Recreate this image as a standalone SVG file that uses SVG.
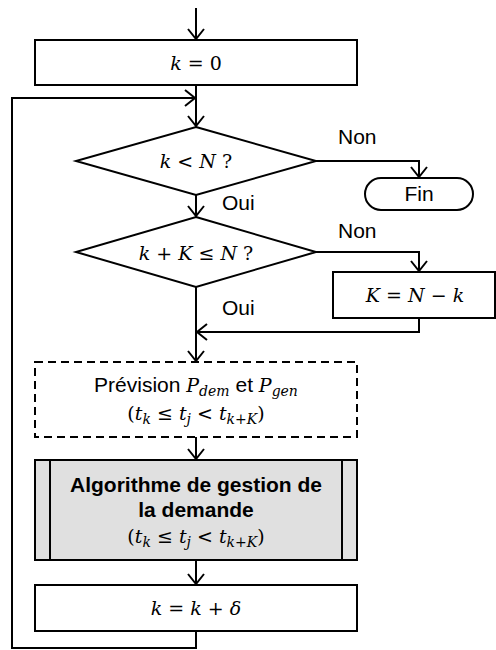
<svg xmlns="http://www.w3.org/2000/svg" width="496" height="650" viewBox="0 0 496 650">
<style>
.box{fill:#fff;stroke:#000;stroke-width:2}
.ln{fill:none;stroke:#000;stroke-width:2}
.lbl{font-family:"Liberation Sans",Arial,sans-serif;font-size:21px;fill:#000}
.m{font-family:"DejaVu Serif","Liberation Serif",serif;font-size:19px;fill:#000}
.i{font-style:italic}
.b{font-weight:bold}
.s{font-size:14px}
</style>
<defs>
<marker id="ah" viewBox="0 0 12 18" refX="11" refY="9" markerWidth="12" markerHeight="18" markerUnits="userSpaceOnUse" orient="auto">
<path d="M1,1 L11,9 L1,17" fill="none" stroke="#000" stroke-width="2"/>
</marker>
</defs>
<g id="connectors">
<line class="ln" x1="196" y1="8" x2="196" y2="39" marker-end="url(#ah)"/>
<line class="ln" x1="196" y1="85" x2="196" y2="126" marker-end="url(#ah)"/>
<polyline class="ln" points="196,631 196,648 12,648 12,98 195,98" marker-end="url(#ah)"/>
<polyline class="ln" points="316,161 419,161 419,177" marker-end="url(#ah)"/>
<line class="ln" x1="196" y1="195" x2="196" y2="216" marker-end="url(#ah)"/>
<polyline class="ln" points="316,252 419,252 419,271" marker-end="url(#ah)"/>
<polyline class="ln" points="419,318 419,332 197,332" marker-end="url(#ah)"/>
<line class="ln" x1="196" y1="287" x2="196" y2="361" marker-end="url(#ah)"/>
<line class="ln" x1="196" y1="437" x2="196" y2="459" marker-end="url(#ah)"/>
<line class="ln" x1="196" y1="560" x2="196" y2="584" marker-end="url(#ah)"/>
<text class="lbl" x="338" y="144">Non</text>
<text class="lbl" x="222" y="210">Oui</text>
<text class="lbl" x="338" y="238">Non</text>
<text class="lbl" x="222" y="315">Oui</text>
</g>
<g id="init">
<rect class="box" x="35" y="40" width="322" height="45"/>
<text class="m" x="196" y="70" text-anchor="middle"><tspan class="i">k</tspan> = 0</text>
</g>
<g id="cond1">
<polygon class="box" points="196,127 316,161 196,195 76,161"/>
<text class="m" x="196" y="168" text-anchor="middle"><tspan class="i">k</tspan> &lt; <tspan class="i">N</tspan> ?</text>
</g>
<g id="fin">
<rect class="box" x="365" y="178" width="108" height="32" rx="16" ry="16"/>
<text class="lbl" x="419" y="201" text-anchor="middle">Fin</text>
</g>
<g id="cond2">
<polygon class="box" points="196,217 316,252 196,287 76,252"/>
<text class="m" x="196" y="260" text-anchor="middle"><tspan class="i">k</tspan> + <tspan class="i">K</tspan> ≤ <tspan class="i">N</tspan> ?</text>
</g>
<g id="adjust">
<rect class="box" x="333" y="272" width="162" height="46"/>
<text class="m" x="415" y="302" text-anchor="middle"><tspan class="i">K</tspan> = <tspan class="i">N</tspan> − <tspan class="i">k</tspan></text>
</g>
<g id="forecast">
<rect class="box" x="35" y="362" width="322" height="75" stroke-dasharray="8,5"/>
<text x="196" y="392" text-anchor="middle"><tspan class="lbl">Prévision </tspan><tspan class="m i">P</tspan><tspan class="m i s" dy="4">dem</tspan><tspan class="lbl" dy="-4"> et </tspan><tspan class="m i">P</tspan><tspan class="m i s" dy="4">gen</tspan></text>
<text class="m" x="196" y="420" text-anchor="middle">(<tspan class="i">t</tspan><tspan class="i s" dy="4">k</tspan><tspan dy="-4"> ≤ </tspan><tspan class="i">t</tspan><tspan class="i s" dy="4">j</tspan><tspan dy="-4"> &lt; </tspan><tspan class="i">t</tspan><tspan class="i s" dy="4">k+K</tspan><tspan dy="-4">)</tspan></text>
</g>
<g id="algo">
<rect x="35" y="460" width="322" height="100" fill="#e0e0e0" stroke="#000" stroke-width="2"/>
<line class="ln" x1="50" y1="460" x2="50" y2="560"/>
<line class="ln" x1="342" y1="460" x2="342" y2="560"/>
<text class="lbl b" x="196" y="492" text-anchor="middle">Algorithme de gestion de</text>
<text class="lbl b" x="196" y="517" text-anchor="middle">la demande</text>
<text class="m" x="196" y="543" text-anchor="middle">(<tspan class="i">t</tspan><tspan class="i s" dy="4">k</tspan><tspan dy="-4"> ≤ </tspan><tspan class="i">t</tspan><tspan class="i s" dy="4">j</tspan><tspan dy="-4"> &lt; </tspan><tspan class="i">t</tspan><tspan class="i s" dy="4">k+K</tspan><tspan dy="-4">)</tspan></text>
</g>
<g id="increment">
<rect class="box" x="35" y="585" width="322" height="46"/>
<text class="m" x="196" y="615" text-anchor="middle"><tspan class="i">k</tspan> = <tspan class="i">k</tspan> + <tspan class="i">δ</tspan></text>
</g>
</svg>
